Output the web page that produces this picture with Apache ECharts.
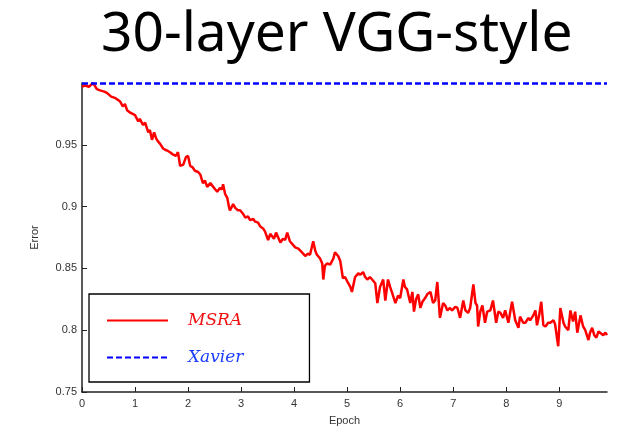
<!DOCTYPE html>
<html><head><meta charset="utf-8">
<script src="https://cdn.jsdelivr.net/npm/echarts@6/dist/echarts.min.js"></script>
<style>html,body{margin:0;padding:0;background:#fff}#c{width:621px;height:431px}</style>
</head><body><div id="c"></div>
<script>
const titleText = '30-layer VGG-style';
const xTickValues = [0,1,2,3,4,5,6,7,8,9];
const yTickLabels = ['0.75','0.8','0.85','0.9','0.95'];
const msraEpoch = [0.00,0.06,0.13,0.21,0.28,0.34,0.42,0.47,0.55,0.62,0.72,0.77,0.81,0.85,0.91,1.00,1.06,1.09,1.15,1.19,1.25,1.28,1.32,1.36,1.40,1.43,1.47,1.53,1.57,1.62,1.66,1.72,1.77,1.81,1.85,1.91,1.96,2.00,2.04,2.08,2.13,2.19,2.23,2.28,2.32,2.36,2.42,2.45,2.51,2.55,2.60,2.64,2.66,2.70,2.74,2.77,2.79,2.85,2.89,2.94,2.98,3.04,3.08,3.13,3.17,3.23,3.26,3.32,3.36,3.42,3.45,3.51,3.55,3.58,3.62,3.66,3.70,3.74,3.79,3.83,3.87,3.92,3.98,4.02,4.08,4.11,4.17,4.21,4.26,4.30,4.36,4.40,4.43,4.49,4.53,4.55,4.58,4.62,4.68,4.74,4.77,4.83,4.87,4.92,4.96,5.02,5.06,5.09,5.15,5.21,5.25,5.30,5.34,5.38,5.43,5.49,5.53,5.57,5.62,5.68,5.72,5.77,5.81,5.85,5.91,5.96,6.00,6.06,6.09,6.13,6.19,6.23,6.26,6.30,6.34,6.38,6.42,6.47,6.51,6.57,6.62,6.66,6.70,6.75,6.81,6.85,6.89,6.94,6.98,7.04,7.08,7.13,7.19,7.23,7.28,7.32,7.38,7.42,7.45,7.47,7.51,7.55,7.60,7.64,7.70,7.75,7.81,7.85,7.89,7.94,7.98,8.04,8.08,8.11,8.17,8.23,8.26,8.32,8.36,8.42,8.45,8.51,8.55,8.58,8.62,8.66,8.70,8.74,8.79,8.83,8.89,8.92,8.98,9.02,9.08,9.11,9.17,9.21,9.26,9.30,9.34,9.40,9.45,9.49,9.55,9.58,9.62,9.66,9.70,9.74,9.77,9.83,9.87,9.90];
const msraError = [0.997,0.998,0.997,1.000,0.995,0.994,0.993,0.992,0.989,0.988,0.985,0.981,0.983,0.978,0.976,0.974,0.969,0.971,0.966,0.968,0.960,0.962,0.954,0.960,0.955,0.953,0.951,0.947,0.946,0.945,0.944,0.942,0.941,0.944,0.933,0.934,0.940,0.941,0.933,0.932,0.929,0.928,0.926,0.919,0.921,0.916,0.919,0.918,0.914,0.912,0.915,0.914,0.918,0.910,0.907,0.900,0.897,0.902,0.899,0.897,0.897,0.894,0.891,0.892,0.889,0.890,0.888,0.887,0.884,0.882,0.880,0.873,0.878,0.877,0.874,0.879,0.875,0.871,0.874,0.873,0.879,0.872,0.869,0.867,0.866,0.865,0.862,0.860,0.862,0.861,0.872,0.864,0.861,0.858,0.854,0.841,0.852,0.854,0.853,0.858,0.863,0.860,0.856,0.842,0.843,0.838,0.835,0.831,0.843,0.846,0.845,0.847,0.843,0.841,0.843,0.840,0.838,0.822,0.835,0.841,0.824,0.841,0.835,0.830,0.822,0.828,0.826,0.841,0.835,0.833,0.822,0.831,0.815,0.825,0.829,0.818,0.823,0.826,0.829,0.831,0.822,0.824,0.839,0.810,0.822,0.820,0.816,0.818,0.816,0.819,0.818,0.810,0.824,0.816,0.814,0.818,0.837,0.822,0.820,0.803,0.815,0.820,0.806,0.815,0.816,0.824,0.806,0.815,0.814,0.810,0.816,0.806,0.816,0.823,0.808,0.802,0.811,0.806,0.806,0.810,0.808,0.812,0.816,0.804,0.812,0.823,0.804,0.803,0.806,0.806,0.808,0.805,0.787,0.818,0.806,0.803,0.800,0.816,0.807,0.815,0.798,0.812,0.803,0.800,0.792,0.798,0.802,0.796,0.794,0.799,0.799,0.796,0.798,0.796];
const xavierEpoch = [0, 2.5, 5, 7.5, 9.9];
const xavierError = [0.9995, 0.9995, 0.9995, 0.9995, 0.9995];

const chart = echarts.init(document.getElementById('c'), null, {renderer:'canvas'});
const lab = {fontFamily:'Liberation Sans', fontSize:11, color:'#333'};
chart.setOption({
  animation:false,
  backgroundColor:'#fff',
  title:{text:titleText, left:96, top:3, textStyle:{fontFamily:'Noto Sans', fontWeight:'normal', fontSize:55, color:'#000'}},
  grid:{left:82, right:14, top:83, bottom:39},
  legend:{
    orient:'vertical', left:89, top:294, padding:[18,66,16,17], itemGap:20,
    itemWidth:61, itemHeight:20, borderColor:'#000', borderWidth:1.3, backgroundColor:'#fff',
    itemStyle:{opacity:0},
    textStyle:{fontFamily:'DejaVu Serif', fontStyle:'italic', fontSize:17, padding:[0,0,0,15]},
    data:[{name:'MSRA', textStyle:{color:'#f01010'}},{name:'Xavier', textStyle:{color:'#1a3cff'}}]
  },
  xAxis:{
    type:'value', min:0, max:9.9, name:'Epoch', nameLocation:'middle', nameGap:23, nameTextStyle:lab,
    axisLine:{lineStyle:{color:'#222', width:1.5}},
    axisTick:{inside:true, length:5, customValues:xTickValues, lineStyle:{color:'#222'}},
    axisLabel:Object.assign({margin:6, customValues:xTickValues}, lab),
    splitLine:{show:false}
  },
  yAxis:{
    type:'value', min:0.75, max:1.0, interval:0.05, name:'Error', nameLocation:'middle', nameGap:42, nameTextStyle:lab,
    axisLine:{show:true, lineStyle:{color:'#222', width:1.5}},
    axisTick:{show:true, inside:true, length:5, lineStyle:{color:'#222'}},
    axisLabel:Object.assign({margin:5, formatter:function(v){
      const i = Math.round((v-0.75)/0.05); return i < yTickLabels.length ? yTickLabels[i] : '';
    }}, lab),
    splitLine:{show:false}
  },
  series:[
    {name:'MSRA', type:'line', showSymbol:false, symbol:'none', data:msraEpoch.map((e,i)=>[e,msraError[i]]),
     lineStyle:{color:'#ff0000', width:2.5}, itemStyle:{color:'#ff0000'}, z:3},
    {name:'Xavier', type:'line', showSymbol:false, symbol:'none', data:xavierEpoch.map((e,i)=>[e,xavierError[i]]),
     lineStyle:{color:'#0000ff', width:2.5, type:[6,3]}, itemStyle:{color:'#0000ff'}, z:4}
  ]
});
</script></body></html>
